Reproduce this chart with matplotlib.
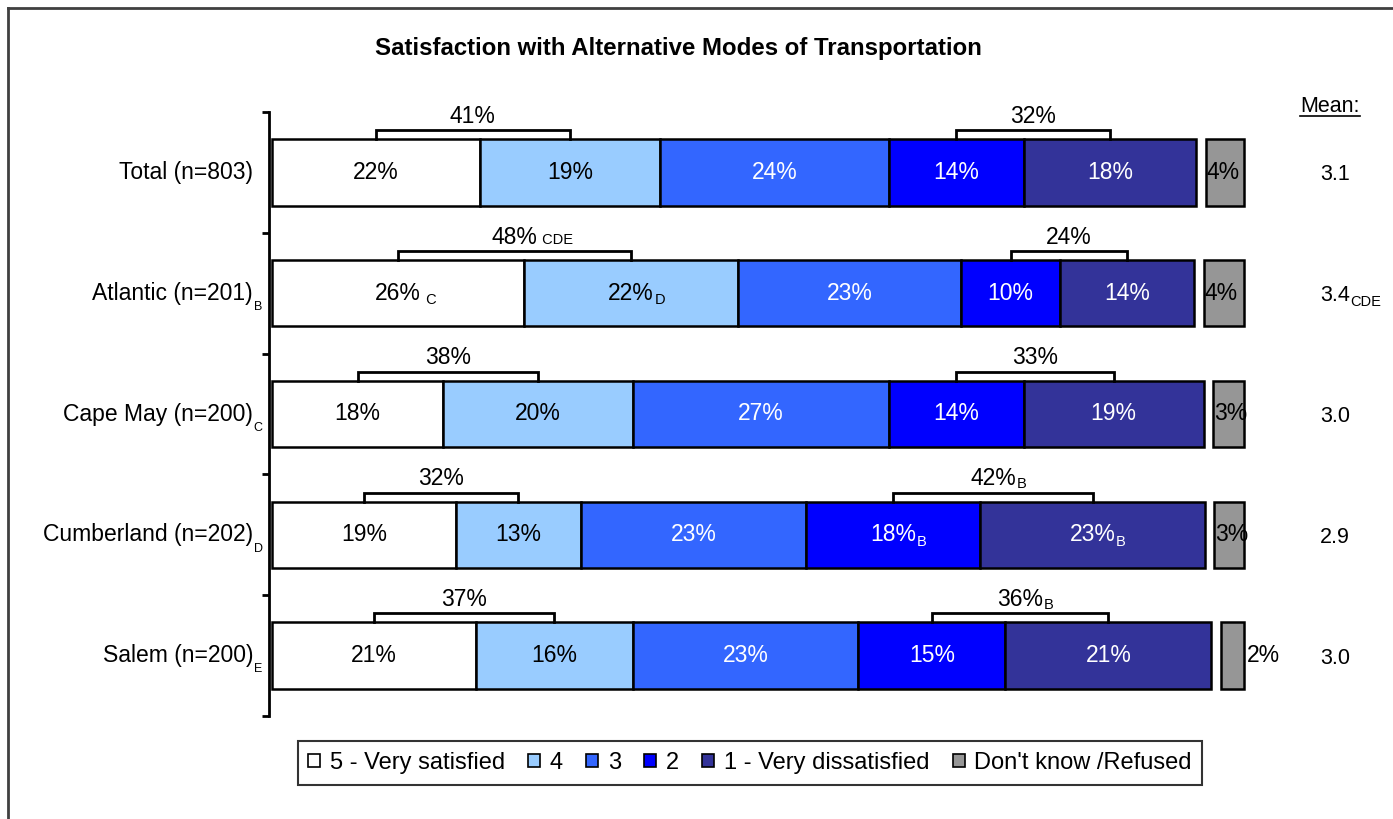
import numpy as np, matplotlib
matplotlib.use("Agg")
import matplotlib.pyplot as plt
from matplotlib.patches import Patch
from matplotlib.lines import Line2D
from matplotlib.transforms import blended_transform_factory

plt.rcParams['font.family'] = ['Liberation Sans', 'DejaVu Sans']

# --- data ---
groups = ["Total (n=803)", "Atlantic (n=201)", "Cape May (n=200)", "Cumberland (n=202)", "Salem (n=200)"]
group_subs = ["", "B", "C", "D", "E"]
very_sat = [21.6, 26.2, 17.8, 19.1, 21.2]
sat4 = [18.7, 22.2, 19.7, 13.0, 16.3]
neutral3 = [23.8, 23.2, 26.6, 23.4, 23.4]
dissat2 = [14.0, 10.3, 14.0, 18.1, 15.3]
very_dissat = [17.9, 13.9, 18.7, 23.3, 21.4]
dont_know = [4.0, 4.2, 3.2, 3.1, 2.4]
seg_subs = [["", "", "", "", ""],
            [" C", "D", "", "", ""],
            ["", "", "", "", ""],
            ["", "", "", "B", "B"],
            ["", "", "", "", ""]]
top2_labels = ["41%", "48%", "38%", "32%", "37%"]
top2_subs = ["", " CDE", "", "", ""]
bottom2_labels = ["32%", "24%", "33%", "42%", "36%"]
bottom2_subs = ["", "", "", "B", "B"]
means = ["3.1", "3.4", "3.0", "2.9", "3.0"]
mean_subs = ["", "CDE", "", "", ""]
series_names = ["5 - Very satisfied", "4", "3", "2", "1 - Very dissatisfied", "Don't know /Refused"]
colors = ["#FFFFFF", "#99CCFF", "#3366FF", "#0000FF", "#333399", "#969696"]
text_colors = ["black", "black", "white", "white", "white"]

W, H = 1393, 819
fig = plt.figure(figsize=(W/100, H/100), dpi=100)
px_per = 9.625
left_px = 269
x0 = -(272 - left_px) / px_per
ax = fig.add_axes([left_px/W, (H-716)/H, (1330-left_px)/W, 604/H])
ax.set_xlim(x0, x0 + (1330-left_px)/px_per)
ax.set_ylim(4.5, -0.5)
for s in ["top", "right", "bottom"]: ax.spines[s].set_visible(False)
ax.spines["left"].set_linewidth(2)
ax.set_xticks([])
ax.set_yticks(np.arange(-0.5, 5, 1.0))
ax.set_yticklabels([])
ax.tick_params(axis="y", length=5, width=2, direction="out")

segs = np.array([very_sat, sat4, neutral3, dissat2, very_dissat])
bh = 0.55
yy = np.arange(len(groups))
fs = 16.5

def label_with_sub(x, y, main, sub, color="black", size=fs, subsize=10.5, drop=0, ha="center", trans=None, va="center"):
    t = ax.text(x, y, main, ha=ha, va=va, color=color, fontsize=size, transform=trans or ax.transData)
    if sub:
        ax.annotate(sub, xy=(1, 0), xycoords=t, xytext=(0.5, -drop), textcoords="offset points",
                    ha="left", va="bottom", color=color, fontsize=subsize)
    return t

left = np.zeros(len(groups))
for k in range(5):
    ax.barh(yy, segs[k], left=left, height=bh, color=colors[k], edgecolor="black", linewidth=1.8)
    for i in range(len(groups)):
        label_with_sub(left[i] + segs[k][i]/2, yy[i], f"{round(segs[k][i])}%", seg_subs[i][k],
                       color=text_colors[k], drop=2)
    left = left + segs[k]

# don't know bars after a small gap
gap = 1.0
dk_left = left + gap
ax.barh(yy, dont_know, left=dk_left, height=bh, color=colors[5], edgecolor="black", linewidth=1.8)
for i in range(len(groups)):
    if dont_know[i] >= 3:
        ax.text(dk_left[i] + 0.1, yy[i], f"{round(dont_know[i])}%", ha="left", va="center", fontsize=fs)
    else:
        ax.text(dk_left[i] + dont_know[i] + 0.3, yy[i], f"{round(dont_know[i])}%", ha="left", va="center", fontsize=fs)

# brackets for top-2 / bottom-2 boxes
cum = np.vstack([np.zeros(len(groups)), np.cumsum(segs, axis=0)])
centers = (cum[:-1] + cum[1:]) / 2
for i in range(len(groups)):
    ytop = yy[i] - bh/2
    ybr = ytop - 0.075
    for (a, b), lab, sub in [((0, 1), top2_labels[i], top2_subs[i]), ((3, 4), bottom2_labels[i], bottom2_subs[i])]:
        xa, xb = centers[a][i], centers[b][i]
        ax.plot([xa, xa, xb, xb], [ytop, ybr, ybr, ytop], color="black", lw=2, solid_joinstyle="miter")
        label_with_sub((xa + xb)/2, ybr - 0.02, lab, sub, va="bottom", drop=1 if sub.strip() == "B" else -1)

# group labels with subscripts
bt = blended_transform_factory(fig.transFigure, ax.transData)
for i, g in enumerate(groups):
    label_with_sub(253/W, yy[i], g, group_subs[i], ha="right", trans=bt, size=16.5, subsize=9, drop=6)

# mean column
for i in range(len(groups)):
    label_with_sub(1320/W, yy[i] + 0.02, means[i], mean_subs[i], ha="left", trans=bt, size=15.5, subsize=10.5, drop=2)
mt = fig.text(1330/W, 1 - 107/H, "Mean:", ha="center", va="center", fontsize=15.5)
fig.canvas.draw()
bb = mt.get_window_extent(fig.canvas.get_renderer())
fig.add_artist(Line2D([bb.x0/W, bb.x1/W], [(bb.y0 + 2)/H, (bb.y0 + 2)/H], transform=fig.transFigure, color="black", lw=1.2))

fig.text(678/W, 1 - 48/H, "Satisfaction with Alternative Modes of Transportation",
         ha="center", va="center", fontsize=17.3, fontweight="bold")

handles = [Patch(facecolor=c, edgecolor="black", linewidth=1.2) for c in colors]
leg = fig.legend(handles, series_names, loc="center", bbox_to_anchor=(750/W, 1 - 763/H), ncol=6,
                 fontsize=17, frameon=True, fancybox=False, edgecolor="black", handlelength=0.5,
                 handleheight=0.5, handletextpad=0.4, columnspacing=1.0, borderpad=0.45, borderaxespad=0)
leg.get_frame().set_linewidth(1.5)

# outer frame (top and left edges visible)
fig.add_artist(Line2D([8/W, 8/W], [0, 1 - 8/H], transform=fig.transFigure, color="#404040", lw=2))
fig.add_artist(Line2D([8/W, 1], [1 - 8/H, 1 - 8/H], transform=fig.transFigure, color="#404040", lw=2))

fig.savefig("out.png", dpi=100, facecolor="white")
